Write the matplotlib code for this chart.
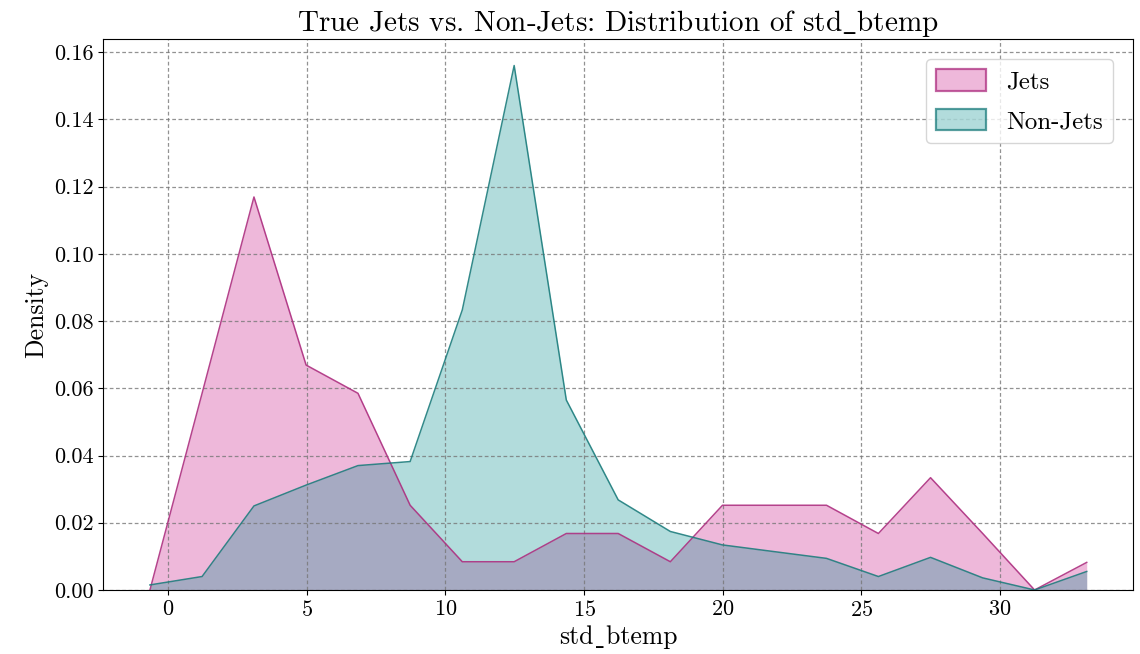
import matplotlib
matplotlib.use("Agg")
import matplotlib.pyplot as plt
from matplotlib.patches import Patch
from matplotlib.colors import to_rgba

plt.rcParams['font.family'] = 'serif'
plt.rcParams['font.serif'] = ['cmr10']
plt.rcParams['mathtext.fontset'] = 'cm'
plt.rcParams['axes.formatter.use_mathtext'] = True

# bin centres (shared bins) and densities per group
centers = [-0.65, 1.23, 3.10, 4.98, 6.85, 8.73, 10.61, 12.48, 14.36, 16.23,
           18.11, 19.99, 21.86, 23.74, 25.61, 27.49, 29.37, 31.24, 33.12]
jets = [0.0, 0.0585, 0.1169, 0.0669, 0.0585, 0.0252, 0.0084, 0.0084, 0.0168, 0.0168,
        0.0084, 0.0252, 0.0252, 0.0252, 0.0168, 0.0334, 0.0168, 0.0, 0.0082]
non_jets = [0.0015, 0.0040, 0.0250, 0.0312, 0.0370, 0.0382, 0.0833, 0.1560, 0.0565, 0.0268,
            0.0174, 0.0134, 0.0114, 0.0094, 0.0040, 0.0097, 0.0036, 0.0, 0.0055]

groups = ["Jets", "Non-Jets"]
colors = ["mediumvioletred", "darkcyan"]
edge_colors = ["#ad2f80", "#1d7d7d"]

fig = plt.figure(figsize=(11.4, 6.54), dpi=100)
ax = fig.add_axes([0.0904, 0.0979, 0.9035, 0.842])

handles = []
for name, vals, c, ec in zip(groups, [jets, non_jets], colors, edge_colors):
    ax.fill_between(centers, 0, vals, color=c, alpha=0.3, linewidth=0)
    ax.plot(centers, vals, color=ec, alpha=0.9, linewidth=1.1)
    handles.append(Patch(facecolor=to_rgba(c, 0.3), edgecolor=to_rgba(ec, 0.75),
                         linewidth=1.6, label=name))

ax.set_xlim(-2.34, 34.79)
ax.set_ylim(0, 0.1638)
ax.set_yticks([0, 0.02, 0.04, 0.06, 0.08, 0.10, 0.12, 0.14, 0.16])
ax.yaxis.set_major_formatter(matplotlib.ticker.FormatStrFormatter('%.2f'))
ax.tick_params(labelsize=16)
ax.grid(True, linestyle=(0, (3, 2)), color='#777777', alpha=0.8, linewidth=0.9)

ax.set_title(r"True Jets vs. Non-Jets: Distribution of std$\_$btemp", fontsize=21, pad=6)
ax.set_xlabel("std\u02cdbtemp", fontsize=18.5, family=['cmr10', 'DejaVu Serif'])
ax.set_ylabel("Density", fontsize=18.5)
ax.legend(handles=handles, loc='upper right', fontsize=18, borderaxespad=0.8,
          handleheight=0.95, labelspacing=0.6)

fig.savefig("out.png")
